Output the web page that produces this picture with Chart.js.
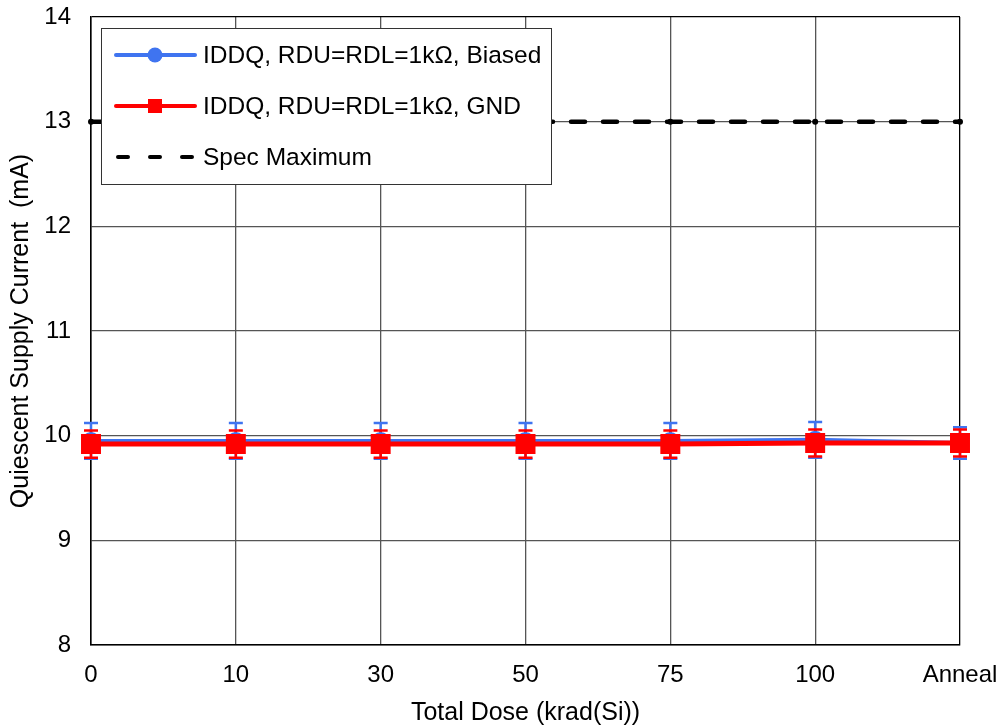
<!DOCTYPE html>
<html>
<head>
<meta charset="utf-8">
<script src="https://cdn.jsdelivr.net/npm/chart.js@4/dist/chart.umd.min.js"></script>
<style>
html,body{margin:0;padding:0;background:#fff;}
#wrap{width:1002px;height:728px;}
</style>
</head>
<body>
<div id="wrap"><canvas id="c" width="1002" height="728"></canvas></div>
<script>
const categories = ['0', '10', '30', '50', '75', '100', 'Anneal'];
const biasedValues = [9.95, 9.95, 9.95, 9.95, 9.95, 9.96, 9.93];
const biasedErrors = [0.17, 0.17, 0.17, 0.17, 0.17, 0.17, 0.15];
const gndValues = [9.92, 9.92, 9.92, 9.92, 9.92, 9.93, 9.93];
const gndErrors = [0.13, 0.13, 0.13, 0.13, 0.13, 0.13, 0.13];
const specValues = [13, 13, 13, 13, 13, 13, 13];
const yTicks = [8, 9, 10, 11, 12, 13, 14];
const seriesLabels = ['IDDQ, RDU=RDL=1kΩ, Biased', 'IDDQ, RDU=RDL=1kΩ, GND', 'Spec Maximum'];

const FONT = "Arial, 'Liberation Sans', sans-serif";
const BLUE = '#3f74f0';
const RED = '#ff0000';

const errorBarPlugin = {
  id: 'errorBars',
  beforeDatasetsDraw(chart) {
    const ctx = chart.ctx;
    const y = chart.scales.y;
    const sets = [[0, BLUE], [1, RED]];
    ctx.save();
    sets.forEach(([di, color]) => {
      const ds = chart.data.datasets[di];
      const meta = chart.getDatasetMeta(di);
      meta.data.forEach((pt, i) => {
        const v = ds.data[i];
        const e = ds.errors[i];
        const top = y.getPixelForValue(v + e);
        const bot = y.getPixelForValue(v - e);
        ctx.strokeStyle = color;
        ctx.lineWidth = 2.5;
        ctx.beginPath();
        ctx.moveTo(pt.x, top); ctx.lineTo(pt.x, bot);
        ctx.moveTo(pt.x - 7, top); ctx.lineTo(pt.x + 7, top);
        ctx.moveTo(pt.x - 7, bot); ctx.lineTo(pt.x + 7, bot);
        ctx.stroke();
      });
    });
    ctx.restore();
  }
};

const legendPlugin = {
  id: 'boxLegend',
  afterDraw(chart) {
    const ctx = chart.ctx;
    const x0 = 101, y0 = 28, w = 450, h = 156;
    ctx.save();
    ctx.fillStyle = '#fff';
    ctx.fillRect(x0, y0, w, h);
    ctx.strokeStyle = '#333';
    ctx.lineWidth = 1;
    ctx.strokeRect(x0 + 0.5, y0 + 0.5, w, h);
    const rows = [55, 106, 157];
    ctx.font = '24.5px ' + FONT;
    ctx.textBaseline = 'middle';
    ctx.fillStyle = '#000';
    rows.forEach((ry, i) => {
      ctx.lineCap = 'round';
      ctx.beginPath();
      if (i === 0) {
        ctx.strokeStyle = BLUE; ctx.lineWidth = 4;
        ctx.moveTo(116, ry); ctx.lineTo(195, ry); ctx.stroke();
        ctx.fillStyle = BLUE;
        ctx.beginPath(); ctx.arc(155, ry, 7.5, 0, Math.PI * 2); ctx.fill();
      } else if (i === 1) {
        ctx.strokeStyle = RED; ctx.lineWidth = 4;
        ctx.moveTo(116, ry); ctx.lineTo(195, ry); ctx.stroke();
        ctx.fillStyle = RED;
        ctx.fillRect(148, ry - 7, 14, 14);
      } else {
        ctx.strokeStyle = '#000'; ctx.lineWidth = 4;
        ctx.setLineDash([10, 22]);
        ctx.moveTo(118, ry); ctx.lineTo(195, ry); ctx.stroke();
        ctx.setLineDash([]);
      }
      ctx.fillStyle = '#000';
      ctx.fillText(chart.data.datasets[i].label, 203, ry + 1);
    });
    ctx.restore();
  }
};

new Chart(document.getElementById('c'), {
  type: 'line',
  data: {
    labels: categories,
    datasets: [
      {
        label: seriesLabels[0], data: biasedValues, errors: biasedErrors,
        borderColor: BLUE, backgroundColor: BLUE, borderWidth: 4,
        pointStyle: 'circle', pointRadius: 9, pointBorderWidth: 0,
        pointBackgroundColor: BLUE, order: 2
      },
      {
        label: seriesLabels[1], data: gndValues, errors: gndErrors,
        borderColor: RED, backgroundColor: RED, borderWidth: 5,
        pointStyle: 'rect', pointRadius: 12, pointBorderWidth: 3,
        pointBorderColor: RED, pointBackgroundColor: RED, order: 1
      },
      {
        label: seriesLabels[2], data: specValues,
        borderColor: '#000', backgroundColor: '#000', borderWidth: 4.5,
        borderDash: [14, 18], borderCapStyle: 'round',
        pointRadius: 3, pointBackgroundColor: '#000', pointBorderWidth: 0, order: 3
      }
    ]
  },
  options: {
    responsive: false,
    animation: false,
    layout: { padding: { top: 17, right: 42, bottom: 0, left: 0 } },
    plugins: { legend: { display: false }, tooltip: { enabled: false } },
    elements: { line: { tension: 0 } },
    scales: {
      x: {
        type: 'category',
        offset: false,
        grid: {
          color: (c) => (c.index === 0 || c.index === categories.length - 1) ? '#000' : '#555',
          lineWidth: 1.3,
          drawTicks: false
        },
        border: { color: '#000', width: 1.5 },
        ticks: { color: '#000', font: { family: FONT, size: 24 }, padding: 16, maxRotation: 0, autoSkip: false },
        title: { display: true, text: 'Total Dose (krad(Si))', color: '#000', font: { family: FONT, size: 25 }, padding: { top: 2, bottom: 0 } },
        afterFit(s) { s.height = 83; s.paddingLeft = 0; s.paddingRight = 0; }
      },
      y: {
        min: 8, max: 14,
        afterBuildTicks(s) { s.ticks = yTicks.map(v => ({ value: v })); },
        grid: {
          color: (c) => (c.tick && c.tick.value === 14) ? '#000' : '#555',
          lineWidth: 1.3,
          drawTicks: false
        },
        border: { color: '#000', width: 1.5 },
        ticks: { color: '#000', font: { family: FONT, size: 24 }, padding: 20 },
        title: { display: true, text: 'Quiescent Supply Current  (mA)', color: '#000', font: { family: FONT, size: 25 }, padding: { top: 6, bottom: 0 } },
        afterFit(s) { s.width = 91; s.paddingTop = 0; s.paddingBottom = 0; }
      }
    }
  },
  plugins: [errorBarPlugin, legendPlugin]
});
</script>
</body>
</html>
